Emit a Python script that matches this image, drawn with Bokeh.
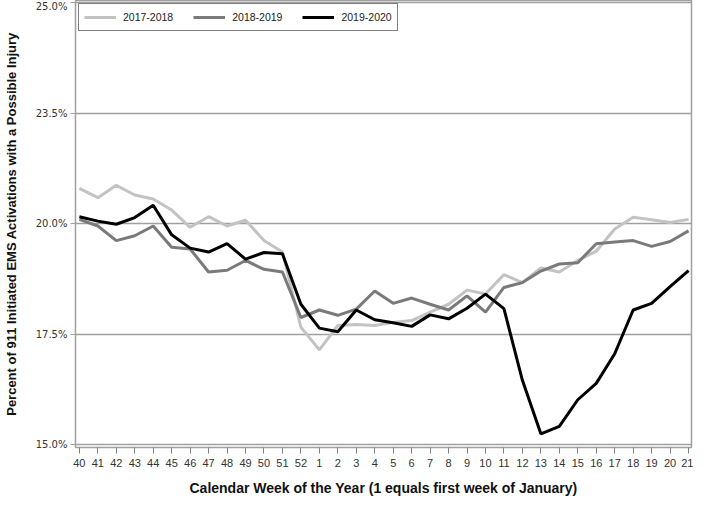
from bokeh.plotting import figure
from bokeh.models import FixedTicker, Legend, LegendItem, Range1d
from bokeh.embed import file_html
from bokeh.resources import INLINE

weeks = ["40", "41", "42", "43", "44", "45", "46", "47", "48", "49", "50", "51", "52",
         "1", "2", "3", "4", "5", "6", "7", "8", "9", "10", "11", "12", "13", "14",
         "15", "16", "17", "18", "19", "20", "21"]

s2017 = [20.80, 20.59, 20.87, 20.65, 20.56, 20.31, 19.92, 20.16, 19.95, 20.08, 19.62, 19.36,
         17.66, 17.15, 17.70, 17.72, 17.70, 17.77, 17.81, 18.00, 18.18, 18.50, 18.41, 18.85,
         18.67, 19.00, 18.91, 19.17, 19.38, 19.88, 20.15, 20.09, 20.03, 20.10]
s2018 = [20.10, 19.95, 19.62, 19.73, 19.95, 19.47, 19.43, 18.91, 18.95, 19.17, 18.97, 18.91,
         17.88, 18.05, 17.93, 18.07, 18.48, 18.20, 18.32, 18.18, 18.05, 18.37, 18.00, 18.56,
         18.67, 18.93, 19.09, 19.12, 19.55, 19.59, 19.62, 19.49, 19.60, 19.84]
s2019 = [20.16, 20.06, 19.99, 20.14, 20.42, 19.75, 19.45, 19.36, 19.55, 19.20, 19.35, 19.32,
         18.18, 17.64, 17.56, 18.05, 17.83, 17.76, 17.68, 17.94, 17.85, 18.09, 18.41, 18.08,
         16.46, 15.25, 15.42, 16.02, 16.39, 17.06, 18.05, 18.20, 18.58, 18.94]

series_names = ["2017-2018", "2018-2019", "2019-2020"]
series_colors = ["#c3c3c3", "#7a7a7a", "#000000"]

y_ticks = [15.0, 17.5, 20.0, 22.5, 25.0]
y_tick_labels = ["15.0%", "17.5%", "20.0%", "23.5%", "25.0%"]

xs = list(range(len(weeks)))

p = figure(width=693, height=498, output_backend="svg", toolbar_location=None,
           x_range=Range1d(-0.21, len(weeks) - 1 + 0.16),
           y_range=Range1d(14.94, 25.05),
           min_border_left=20, min_border_right=2, min_border_top=0, min_border_bottom=0)

items = []
for name, col, data in zip(series_names, series_colors, [s2017, s2018, s2019]):
    r = p.line(xs, data, line_color=col, line_width=3)
    items.append(LegendItem(label=name, renderers=[r]))

p.xgrid.visible = False
p.ygrid.grid_line_color = "#a0a0a0"
p.ygrid.grid_line_width = 1.5
p.ygrid.ticker = FixedTicker(ticks=y_ticks)

p.outline_line_color = "#a0a0a0"
p.outline_line_width = 1.5
p.background_fill_color = "white"
p.border_fill_color = "white"

p.yaxis.ticker = FixedTicker(ticks=y_ticks)
p.yaxis.major_label_overrides = {t: l for t, l in zip(y_ticks, y_tick_labels)}
p.yaxis.axis_label = "Percent of 911 Initiated EMS Activations with a Possible Injury"
p.yaxis.axis_label_text_font = "Liberation Sans"
p.yaxis.axis_label_text_font_style = "bold"
p.yaxis.axis_label_text_font_size = "13px"
p.yaxis.axis_label_text_color = "#111111"
p.yaxis.axis_label_standoff = 14
p.yaxis.major_label_text_font = "DejaVu Sans"
p.yaxis.major_label_text_font_size = "10px"
p.yaxis.major_label_text_color = "#333333"
p.yaxis.major_label_standoff = 3
p.yaxis.minor_tick_line_color = None
p.yaxis.major_tick_in = 0
p.yaxis.major_tick_out = 5
p.yaxis.axis_line_color = "#a0a0a0"
p.yaxis.major_tick_line_color = "#a0a0a0"

p.xaxis.ticker = FixedTicker(ticks=xs)
p.xaxis.major_label_overrides = {i: w for i, w in zip(xs, weeks)}
p.xaxis.axis_label = "Calendar Week of the Year (1 equals first week of January)"
p.xaxis.axis_label_text_font = "Liberation Sans"
p.xaxis.axis_label_text_font_style = "bold"
p.xaxis.axis_label_text_font_size = "14px"
p.xaxis.axis_label_text_color = "#111111"
p.xaxis.axis_label_text_line_height = 1.0
p.xaxis.axis_label_standoff = 10
p.xaxis.major_label_text_font = "Liberation Sans"
p.xaxis.major_label_text_font_size = "11px"
p.xaxis.major_label_text_line_height = 1.0
p.xaxis.major_label_text_color = "#333333"
p.xaxis.major_label_standoff = 5
p.xaxis.minor_tick_line_color = None
p.xaxis.major_tick_in = 0
p.xaxis.major_tick_out = 6
p.xaxis.axis_line_color = "#a0a0a0"
p.xaxis.major_tick_line_color = "#808080"

legend = Legend(items=items, location="top_left", orientation="horizontal",
                border_line_color="black", border_line_width=1.5,
                background_fill_color="white", background_fill_alpha=1.0,
                label_text_font="Liberation Sans", label_text_font_size="10.5px",
                label_text_color="#222222",
                glyph_width=32, glyph_height=16, label_standoff=7, spacing=20,
                padding=5, margin=3, label_height=16)
p.add_layout(legend)

open("out.html", "w").write(file_html(p, INLINE))
